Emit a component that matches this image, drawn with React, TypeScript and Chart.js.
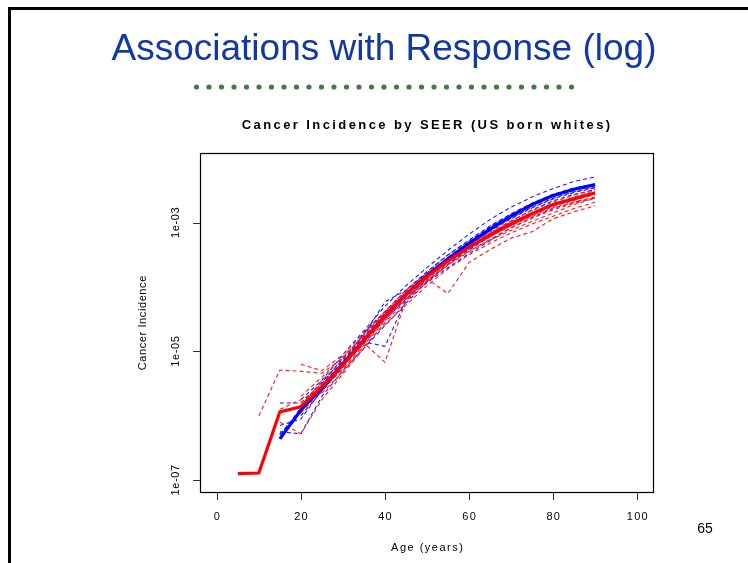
import React, { useEffect, useRef } from "react";
import { Chart, registerables } from "chart.js";

Chart.register(...registerables);

// ---------- data ----------
const ages = [5, 10, 15, 20, 25, 30, 35, 40, 45, 50, 55, 60, 65, 70, 75, 80, 85, 90];

const xTickValues = [0, 20, 40, 60, 80, 100];
const yTickValues = [1e-7, 1e-5, 1e-3];
const yTickLabels = ["1e-07", "1e-05", "1e-03"];

// thick (average) curves
const redMain = [1.26e-7, 1.29e-7, 1.15e-6, 1.38e-6, 2.82e-6, 6.17e-6, 1.51e-5, 3.55e-5, 7.59e-5, 1.45e-4, 2.57e-4, 4.17e-4, 6.46e-4, 9.55e-4, 1.38e-3, 1.91e-3, 2.34e-3, 2.88e-3];
const blueMain = [null, null, 4.37e-7, 1.23e-6, 2.69e-6, 6.46e-6, 1.51e-5, 3.55e-5, 7.59e-5, 1.48e-4, 2.75e-4, 4.79e-4, 7.94e-4, 1.26e-3, 1.91e-3, 2.63e-3, 3.31e-3, 3.89e-3];

// blue dashed curves
const blue1 = [null, null, null, 1.78e-6, 3.55e-6, 8.91e-6, 2.09e-5, 5.01e-5, 1.05e-4, 2.0e-4, 3.72e-4, 6.61e-4, 1.12e-3, 1.74e-3, 2.51e-3, 3.39e-3, 4.37e-3, 5.13e-3];
const blue2 = [null, null, 1.58e-6, 1.58e-6, 3.16e-6, 7.94e-6, 1.78e-5, 5.89e-5, 8.91e-5, 1.66e-4, 3.16e-4, 5.37e-4, 8.91e-4, 1.38e-3, 2.0e-3, 2.75e-3, 3.47e-3, 3.98e-3];
const blue3 = [null, null, 5.62e-7, 5.25e-7, 2.0e-6, 5.01e-6, 1.12e-5, 2.51e-5, 5.62e-5, 1.2e-4, 2.24e-4, 3.8e-4, 6.03e-4, 9.33e-4, 1.38e-3, 1.91e-3, 2.4e-3, 2.82e-3];
const blue4 = [null, null, 7.08e-7, 8.91e-7, 2.51e-6, 6.31e-6, 1.41e-5, 1.2e-5, 6.31e-5, 1.41e-4, 2.63e-4, 4.47e-4, 7.41e-4, 1.15e-3, 1.7e-3, 2.34e-3, 2.95e-3, 3.47e-3];
const blue5 = [null, null, null, 1.0e-6, 2.4e-6, 5.62e-6, 1.91e-5, 3.98e-5, 8.32e-5, 1.58e-4, 2.88e-4, 5.01e-4, 8.32e-4, 1.29e-3, 1.91e-3, 2.57e-3, 3.16e-3, 3.72e-3];
const blue6 = [null, null, 5.25e-7, 1.12e-6, 3.02e-6, 7.08e-6, 1.58e-5, 3.31e-5, 6.61e-5, 1.26e-4, 2.29e-4, 3.98e-4, 6.61e-4, 1.05e-3, 1.58e-3, 2.19e-3, 2.75e-3, 3.24e-3];
const blue7 = [null, null, null, 1.41e-6, 3.31e-6, 7.59e-6, 1.66e-5, 3.8e-5, 7.94e-5, 1.51e-4, 2.82e-4, 4.68e-4, 7.59e-4, 1.17e-3, 1.74e-3, 2.4e-3, 3.02e-3, 3.55e-3];
const blue8 = [null, null, null, 1.26e-6, 2.51e-6, 6.03e-6, 1.32e-5, 3.16e-5, 6.31e-5, 1.17e-4, 2.0e-4, 3.31e-4, 5.25e-4, 8.32e-4, 1.2e-3, 1.66e-3, 2.09e-3, 2.4e-3];
const blue9 = [null, null, 5.01e-7, 1.32e-6, 2.63e-6, 6.61e-6, 2.0e-5, 4.17e-5, 8.91e-5, 1.74e-4, 3.16e-4, 5.25e-4, 8.71e-4, 1.35e-3, 1.95e-3, 2.69e-3, 3.39e-3, 3.98e-3];

// red dashed curves
const red1 = [null, 1.0e-6, 5.13e-6, 4.9e-6, 4.57e-6, 7.94e-6, 1.78e-5, 3.98e-5, 8.32e-5, 1.58e-4, 2.69e-4, 4.17e-4, 6.31e-4, 8.91e-4, 1.26e-3, 1.7e-3, 2.09e-3, 2.51e-3];
const red2 = [null, null, null, 6.31e-6, 5.01e-6, 8.91e-6, 1.91e-5, 4.17e-5, 8.91e-5, 1.66e-4, 2.82e-4, 4.47e-4, 6.92e-4, 1.02e-3, 1.45e-3, 1.95e-3, 2.45e-3, 3.02e-3];
const red3 = [null, null, 7.94e-7, 5.25e-7, 1.78e-6, 4.47e-6, 1.12e-5, 2.82e-5, 6.03e-5, 1.2e-4, 2.19e-4, 3.55e-4, 5.5e-4, 8.32e-4, 1.17e-3, 1.58e-3, 2.0e-3, 2.4e-3];
const red4 = [null, null, null, 1.12e-6, 2.4e-6, 5.62e-6, 1.35e-5, 6.76e-6, 6.31e-5, 1.32e-4, 2.4e-4, 3.98e-4, 6.03e-4, 8.91e-4, 1.29e-3, 1.78e-3, 2.24e-3, 2.75e-3];
const red5 = [null, null, null, 1.58e-6, 3.16e-6, 6.61e-6, 1.41e-5, 3.16e-5, 7.08e-5, 1.32e-4, 7.94e-5, 2.4e-4, 3.8e-4, 5.75e-4, 7.24e-4, 1.15e-3, 1.48e-3, 1.82e-3];
const red6 = [null, null, null, 1.41e-6, 3.55e-6, 7.08e-6, 1.66e-5, 3.8e-5, 7.94e-5, 1.48e-4, 2.63e-4, 4.27e-4, 6.61e-4, 9.77e-4, 1.41e-3, 1.95e-3, 2.51e-3, 3.16e-3];
const red7 = [null, null, 1.26e-6, 1.78e-6, 2.63e-6, 5.25e-6, 1.26e-5, 3.02e-5, 6.61e-5, 1.26e-4, 2.24e-4, 3.63e-4, 5.37e-4, 7.59e-4, 1.05e-3, 1.41e-3, 1.91e-3, 2.4e-3];
const red8 = [null, null, null, 1.26e-6, 2.82e-6, 6.31e-6, 1.58e-5, 3.47e-5, 7.41e-5, 1.41e-4, 2.51e-4, 4.07e-4, 6.31e-4, 9.33e-4, 1.35e-3, 1.86e-3, 2.34e-3, 2.82e-3];
const red9 = [null, null, null, 2.0e-6, 3.98e-6, 8.32e-6, 1.74e-5, 3.98e-5, 8.32e-5, 1.58e-4, 2.75e-4, 4.57e-4, 7.08e-4, 1.07e-3, 1.55e-3, 2.09e-3, 2.69e-3, 3.31e-3];
const red10 = [null, null, null, null, 2.24e-6, 4.79e-6, 1.2e-5, 2.63e-5, 5.25e-5, 1.05e-4, 1.91e-4, 3.16e-4, 4.79e-4, 6.92e-4, 9.55e-4, 1.26e-3, 1.66e-3, 2.09e-3];

const redDashed = [red1, red2, red3, red4, red5, red6, red7, red8, red9, red10];
const blueDashed = [blue1, blue2, blue3, blue4, blue5, blue6, blue7, blue8, blue9];

const slideTitle = "Associations with Response (log)";
const chartTitle = "Cancer Incidence by SEER (US born whites)";
const xTitle = "Age (years)";
const yTitle = "Cancer Incidence";
const pageNumber = "65";

// ---------- helpers ----------
const FONT = "Arial, 'Liberation Sans', Helvetica, sans-serif";

function toPoints(vals: (number | null)[]) {
  const pts: { x: number; y: number }[] = [];
  vals.forEach((v, i) => {
    if (v !== null) pts.push({ x: ages[i], y: v });
  });
  return pts;
}

function spacedText(ctx: CanvasRenderingContext2D, text: string, cx: number, cy: number, spacing: number) {
  (ctx as any).letterSpacing = spacing + "px";
  const w = ctx.measureText(text).width;
  const supported = (ctx as any).letterSpacing === spacing + "px";
  const width = supported ? w - spacing : w;
  ctx.textAlign = "left";
  ctx.textBaseline = "middle";
  ctx.fillText(text, cx - width / 2, cy);
  (ctx as any).letterSpacing = "0px";
}

const decorPlugin = {
  id: "decor",
  afterDraw(chart: any) {
    const { ctx, chartArea: a, scales } = chart;
    const x = scales.x;
    const y = scales.y;
    ctx.save();
    // box
    ctx.strokeStyle = "#000";
    ctx.lineWidth = 1.2;
    ctx.strokeRect(a.left + 0.5, a.top + 0.5, a.right - a.left - 1, a.bottom - a.top - 1);

    // tick marks
    ctx.strokeStyle = "#333";
    ctx.lineWidth = 1;
    ctx.beginPath();
    xTickValues.forEach((v) => {
      const px = Math.round(x.getPixelForValue(v)) + 0.5;
      ctx.moveTo(px, a.bottom);
      ctx.lineTo(px, a.bottom + 7);
    });
    yTickValues.forEach((v) => {
      const py = Math.round(y.getPixelForValue(v)) + 0.5;
      ctx.moveTo(a.left, py);
      ctx.lineTo(a.left - 7, py);
    });
    ctx.stroke();

    ctx.fillStyle = "#000";
    // x tick labels
    ctx.font = `11px ${FONT}`;
    xTickValues.forEach((v) => {
      spacedText(ctx, String(v), x.getPixelForValue(v), a.bottom + 24, 1.2);
    });
    // y tick labels (rotated)
    yTickValues.forEach((v, i) => {
      ctx.save();
      ctx.translate(a.left - 24, y.getPixelForValue(v));
      ctx.rotate(-Math.PI / 2);
      spacedText(ctx, yTickLabels[i], 0, 0, 0.6);
      ctx.restore();
    });
    // axis titles
    spacedText(ctx, xTitle, (x.getPixelForValue(-4) + x.getPixelForValue(104)) / 2, a.bottom + 55, 1.5);
    ctx.save();
    ctx.translate(a.left - 57, (a.top + a.bottom) / 2);
    ctx.rotate(-Math.PI / 2);
    spacedText(ctx, yTitle, 0, 0, 0.6);
    ctx.restore();

    // chart title
    ctx.font = `bold 13px ${FONT}`;
    spacedText(ctx, chartTitle, (a.left + a.right) / 2 - 1, a.top - 28, 2.4);

    // decorative dotted rule under slide title
    ctx.fillStyle = "#457845";
    for (let i = 0; i < 31; i++) {
      ctx.beginPath();
      ctx.arc(196.5 + i * 12.5, 87, 2.6, 0, Math.PI * 2);
      ctx.fill();
    }
    ctx.restore();
  },
};

export default function App() {
  const canvasRef = useRef<HTMLCanvasElement | null>(null);

  useEffect(() => {
    const canvas = canvasRef.current;
    if (!canvas) return;

    const datasets: any[] = [];
    datasets.push({ data: toPoints(redMain), borderColor: "#ff0000", borderWidth: 3.2 });
    datasets.push({ data: toPoints(blueMain), borderColor: "#0000ff", borderWidth: 3.2 });
    redDashed.forEach((s) =>
      datasets.push({ data: toPoints(s), borderColor: "#ff1a1a", borderWidth: 1.1, borderDash: [4, 3] })
    );
    blueDashed.forEach((s) =>
      datasets.push({ data: toPoints(s), borderColor: "#1a1aff", borderWidth: 1.1, borderDash: [4, 3] })
    );

    const chart = new Chart(canvas, {
      type: "line",
      data: { datasets },
      options: {
        animation: false,
        responsive: false,
        devicePixelRatio: 1,
        layout: { padding: { left: 200, top: 153, right: 94, bottom: 70 } },
        plugins: { legend: { display: false }, tooltip: { enabled: false }, title: { display: false } },
        elements: { point: { radius: 0 }, line: { tension: 0, fill: false } },
        scales: {
          x: { type: "linear", min: -4, max: 104, display: false },
          y: { type: "logarithmic", min: Math.pow(10, -7.2), max: Math.pow(10, -1.918), display: false, bounds: "data" },
        },
      },
      plugins: [decorPlugin],
    } as any);

    return () => chart.destroy();
  }, []);

  return (
    <div style={{ position: "fixed", left: 0, top: 0, width: 748, height: 563, overflow: "hidden", background: "#fff" }}>
      <div
        style={{
          position: "absolute",
          left: 8,
          top: 7,
          width: 900,
          height: 700,
          borderLeft: "3px solid #000",
          borderTop: "3px solid #000",
        }}
      />
      <canvas ref={canvasRef} width={748} height={563} style={{ position: "absolute", left: 0, top: 0, display: "block" }} />
      <div
        style={{
          position: "absolute",
          left: 384,
          top: 27,
          transform: "translateX(-50%)",
          whiteSpace: "nowrap",
          fontFamily: FONT,
          fontSize: 37,
          lineHeight: "42px",
          color: "#1238a2",
        }}
      >
        {slideTitle}
      </div>
      <div
        style={{
          position: "absolute",
          left: 705,
          top: 519,
          transform: "translateX(-50%)",
          whiteSpace: "nowrap",
          fontFamily: FONT,
          fontSize: 14,
          lineHeight: "18px",
          color: "#000",
        }}
      >
        {pageNumber}
      </div>
    </div>
  );
}
